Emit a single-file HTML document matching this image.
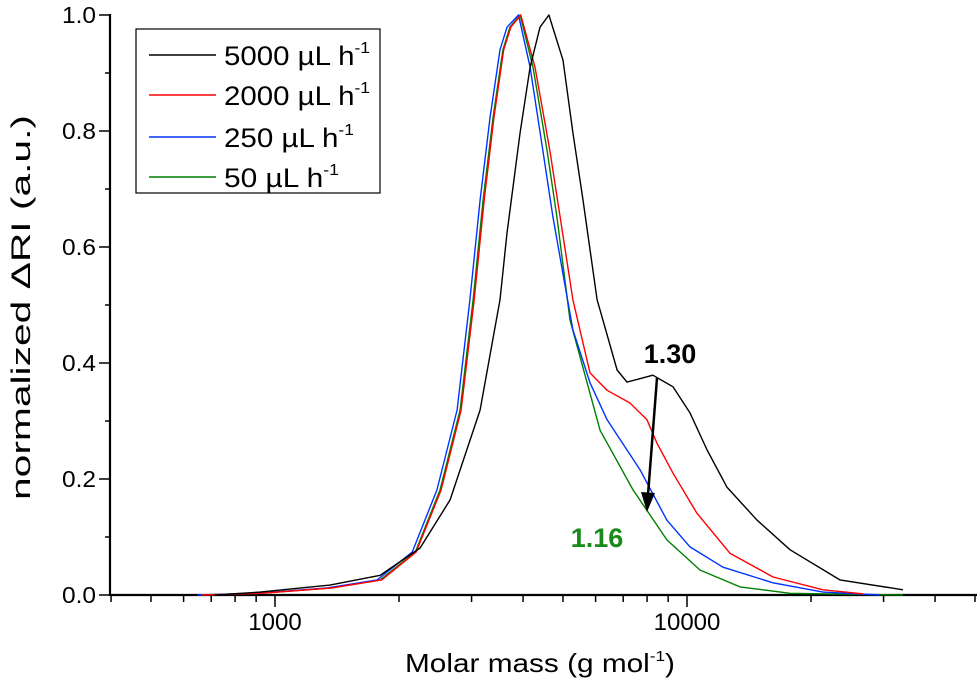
<!DOCTYPE html>
<html><head><meta charset="utf-8"><style>
html,body{margin:0;padding:0;background:#fff;}
svg{display:block;font-family:"Liberation Sans",Arial,sans-serif;}
</style></head><body>
<svg id="chart" width="980" height="693" viewBox="0 0 980 693" xmlns="http://www.w3.org/2000/svg">
<rect width="980" height="693" fill="#fff"/>
<g id="axes"></g>
<g id="series"></g>
<g id="legend">
<rect x="136" y="29" width="244" height="164" fill="#fff" stroke="#000" stroke-width="1.2"/>
</g>
<text x="405" y="672" font-size="26" textLength="270" lengthAdjust="spacingAndGlyphs">Molar mass (g mol<tspan font-size="15" dy="-11">-1</tspan><tspan dy="11">)</tspan></text>
<text transform="translate(30,500) rotate(-90)" font-size="27" textLength="385" lengthAdjust="spacingAndGlyphs">normalized ΔRI (a.u.)</text>
<text x="670" y="363" font-size="27" font-weight="bold" text-anchor="middle">1.30</text>
<text x="597" y="547" font-size="27" font-weight="bold" fill="#1a8a1a" text-anchor="middle">1.16</text>
<g>
<line x1="657" y1="378" x2="648" y2="495" stroke="#000" stroke-width="2.5"/>
<polygon points="641,492 655,493 647,512" fill="#000"/>
</g>
</svg>
<script>
const seriesNames = ["5000 µL h", "2000 µL h", "250 µL h", "50 µL h"];
const seriesColors = ["#000000", "#ff0000", "#0033ff", "#008000"];
const m5000 = [714,920,1360,1800,2250,2660,3146,3516,3656,3934,4160,4397,4622,5000,5285,5593,6052,6152,6765,7150,8266,9245,10170,11190,12500,14800,17790,23500,33440];
const y5000 = [0,0.005,0.017,0.034,0.081,0.164,0.319,0.509,0.624,0.797,0.910,0.979,1.0,0.922,0.797,0.681,0.509,0.491,0.388,0.367,0.379,0.359,0.314,0.25,0.186,0.129,0.078,0.026,0.009];
const m2000 = [665,925,1370,1815,2200,2530,2830,3045,3220,3400,3590,3735,3950,4277,4646,4920,5285,5815,6398,7270,7998,8450,9245,10570,12710,16170,21380,26720];
const y2000 = [0,0.003,0.012,0.026,0.074,0.181,0.319,0.509,0.681,0.824,0.940,0.979,1.0,0.910,0.767,0.652,0.509,0.383,0.353,0.331,0.302,0.262,0.210,0.141,0.072,0.031,0.009,0.002];
const m250 = [647,904,1337,1770,2153,2472,2767,2972,3146,3327,3516,3656,3900,4160,4467,4727,5285,5815,6398,7690,8938,10170,12230,16170,21380,29400];
const y250 = [0,0.003,0.012,0.026,0.074,0.181,0.319,0.509,0.681,0.824,0.940,0.979,1.0,0.910,0.767,0.652,0.457,0.366,0.302,0.216,0.129,0.083,0.048,0.021,0.005,0];
const m50 = [658,920,1360,1800,2190,2515,2813,3025,3200,3383,3575,3716,3934,4229,4572,4832,5200,6152,7400,8938,10760,13450,17790,33440];
const y50 = [0,0.003,0.012,0.026,0.074,0.181,0.319,0.509,0.681,0.824,0.940,0.979,1.0,0.910,0.767,0.652,0.474,0.284,0.181,0.095,0.043,0.014,0.003,0];
const yTicks = ["0.0","0.2","0.4","0.6","0.8","1.0"];
const xTickLabels = ["1000","10000"];

const NS = "http://www.w3.org/2000/svg";
const X0 = 110, X1 = 977, Y0 = 595, Y1 = 15;
const LMIN = Math.log10(1000) - (275 - X0) / 412;
const LMAX = Math.log10(1000) + (X1 - 275) / 412;
function xs(m){ return X0 + (Math.log10(m) - LMIN) / (LMAX - LMIN) * (X1 - X0); }
function ys(v){ return Y0 - v * (Y0 - Y1); }
function mk(tag, attrs, parent){ const e = document.createElementNS(NS, tag); for (const k in attrs) e.setAttribute(k, attrs[k]); parent.appendChild(e); return e; }

const axes = document.getElementById('axes');
let el = mk('line', {x1:X0, y1:Y0, x2:X1, y2:Y0, stroke:'#000', 'stroke-width':2.2}, axes);


el = mk('line', {x1:X0, y1:Y0+1, x2:X0, y2:Y1-1, stroke:'#000', 'stroke-width':2.2}, axes);


for (let i = 0; i <= 10; i++) {
  const v = i / 10, y = ys(v), major = i % 2 === 0;
  el = mk('line', {x1: major ? 99 : 105, y1:y, x2:X0, y2:y, stroke:'#000', 'stroke-width':1.5}, axes);
  
  
  if (major) {
    el = mk('text', {x:96, y:y+8, 'font-size':23, 'text-anchor':'end', textLength:34, lengthAdjust:'spacingAndGlyphs'}, axes);
    el.textContent = yTicks[i/2];
    
    
  }
}
for (let d = 100; d <= 10000; d *= 10) {
  for (let k = 1; k <= 9; k++) {
    const m = d * k, x = xs(m);
    if (x < X0 || x > X1 + 1) continue;
    const major = k === 1;
    el = mk('line', {x1:x, y1:Y0, x2:x, y2:Y0 + (major ? 12 : 7), stroke:'#000', 'stroke-width':1.5}, axes);
    
    
    if (major && (m === 1000 || m === 10000)) {
      el = mk('text', {x:x, y:630, 'font-size':24, 'text-anchor':'middle'}, axes);
      el.textContent = xTickLabels[m === 1000 ? 0 : 1];
      
      
    }
  }
}

const series = document.getElementById('series');
const data = [[m5000,y5000],[m2000,y2000],[m250,y250],[m50,y50]];
const order = [3,2,1,0];
order.forEach(i => {
  const [ms, vs] = data[i];
  const d = ms.map((m, j) => (j ? 'L' : 'M') + xs(m).toFixed(1) + ',' + ys(vs[j]).toFixed(1)).join(' ');
  const p = mk('path', {d:d, fill:'none', stroke:seriesColors[i], 'stroke-width':1.4, 'stroke-linejoin':'round'}, series);
  
  
});

const legend = document.getElementById('legend');
const ly = [55, 95, 137, 177];
const lw = [146, 146, 130, 115];
seriesNames.forEach((n, i) => {
  const g = mk('g', {}, legend);
  
  
  mk('line', {x1:149, y1:ly[i], x2:216, y2:ly[i], stroke:seriesColors[i], 'stroke-width':1.4}, g);
  const t = mk('text', {x:224, y:ly[i]+10, 'font-size':27, textLength:lw[i], lengthAdjust:'spacingAndGlyphs'}, g);
  t.textContent = n;
  const s = mk('tspan', {'font-size':16, dy:-12}, t);
  s.textContent = '-1';
});
</script>
</body></html>
